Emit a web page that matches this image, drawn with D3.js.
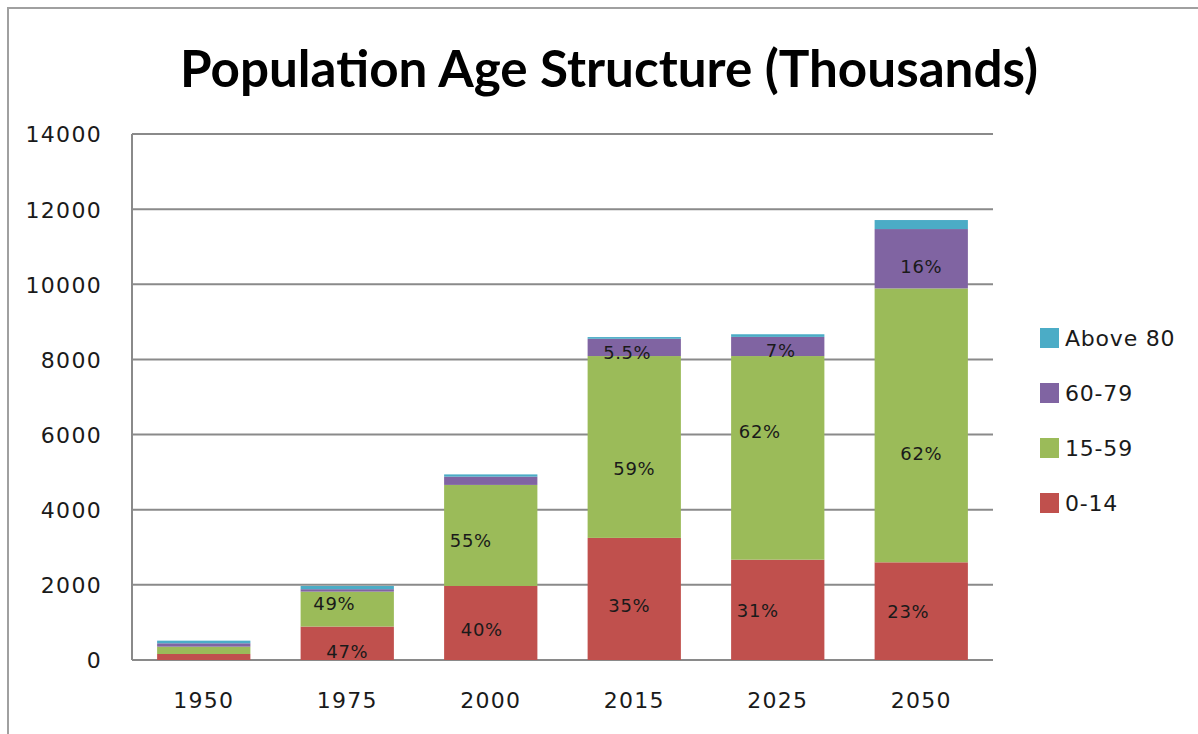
<!DOCTYPE html>
<html>
<head>
<meta charset="utf-8">
<script src="https://cdn.jsdelivr.net/npm/d3@7"></script>
<style>
  html, body { margin: 0; padding: 0; background: #fff; }
  svg { display: block; }
</style>
</head>
<body>
<svg id="chart" width="1198" height="734"></svg>
<script>
// ---------- DATA ----------
const categories = ["1950", "1975", "2000", "2015", "2025", "2050"];
const seriesNames = ["0-14", "15-59", "60-79", "Above 80"];
const age0_14   = [160, 890, 1970, 3250, 2670, 2600];
const age15_59  = [195, 930, 2690, 4840, 5420, 7290];
const age60_79  = [90,  65,  220,  460,  510,  1580];
const age80plus = [70,  85,  60,   45,   70,   240];
const pct0_14   = ["", "47%", "40%", "35%", "31%", "23%"];
const pct15_59  = ["", "49%", "55%", "59%", "62%", "62%"];
const pct60_79  = ["", "", "", "5.5%", "7%", "16%"];
const yTicks = [0, 2000, 4000, 6000, 8000, 10000, 12000, 14000];
const titleText = "Population Age Structure (Thousands)";

// ---------- LAYOUT / STYLE ----------
const colors = ["#C0504D", "#9BBB59", "#8064A2", "#4BACC6"];
const plot = { left: 132, right: 993, top: 134, bottom: 660 };
const textFont = "'DejaVu Sans', Verdana, sans-serif";
// label nudges (dx, dy) per series per category, relative to segment centre
const nudge0_14  = [[0,0],[0,8],[-9,7],[-5,7],[-20,1],[-13,0]];
const nudge15_59 = [[0,0],[-13,-6],[-20,5],[0,22],[-18,-26],[0,28]];
const nudge60_79 = [[0,0],[0,0],[0,0],[-7,5],[3,4],[0,8]];

const svg = d3.select("#chart");

// outer chart border
svg.append("path")
  .attr("d", "M8,734 L8,8 L1198,8")
  .attr("fill", "none").attr("stroke", "#a0a0a0").attr("stroke-width", 2);

// title
const title = svg.append("text")
  .attr("x", 609).attr("y", 87)
  .attr("text-anchor", "middle")
  .attr("font-family", "Lato, 'Open Sans', sans-serif")
  .attr("font-weight", "bold")
  .attr("font-size", 50)
  .attr("fill", "#000")
  .text(titleText);
const tw = title.node().getComputedTextLength();
title.attr("font-size", 50 * 858 / tw);

// scales
const x = d3.scaleBand().domain(categories)
  .range([plot.left, plot.right]).paddingInner(0.35).paddingOuter(0.175);
const y = d3.scaleLinear().domain([0, 14000]).range([plot.bottom, plot.top]);

// gridlines
svg.append("g").selectAll("line").data(yTicks).join("line")
  .attr("x1", plot.left).attr("x2", plot.right)
  .attr("y1", d => y(d)).attr("y2", d => y(d))
  .attr("stroke", "#8a8a8a").attr("stroke-width", 2);
// left axis line
svg.append("line")
  .attr("x1", plot.left).attr("x2", plot.left)
  .attr("y1", y(14000)).attr("y2", y(0))
  .attr("stroke", "#8a8a8a").attr("stroke-width", 2);

// y axis labels
const yAxis = d3.axisLeft(y).tickValues(yTicks).tickFormat(d3.format("d")).tickSize(0).tickPadding(0);
const gy = svg.append("g").attr("transform", "translate(102,0)").call(yAxis);
gy.select(".domain").remove();
gy.selectAll("text")
  .attr("font-family", textFont)
  .attr("font-size", 22).attr("letter-spacing", 1.3).attr("fill", "#1a1a1a").attr("dy", "0.36em");

// x axis labels
const xAxis = d3.axisBottom(x).tickSize(0).tickPadding(0);
const gx = svg.append("g").attr("transform", "translate(0,700)").call(xAxis);
gx.select(".domain").remove();
gx.selectAll("text")
  .attr("font-family", textFont)
  .attr("font-size", 22).attr("letter-spacing", 1.3).attr("fill", "#1a1a1a").attr("dy", "0.36em");

// stacked data
const rows = categories.map((c, i) => ({
  cat: c, "0-14": age0_14[i], "15-59": age15_59[i], "60-79": age60_79[i], "Above 80": age80plus[i]
}));
const stacked = d3.stack().keys(seriesNames)(rows);

svg.append("g").selectAll("g").data(stacked).join("g")
  .attr("fill", (d, i) => colors[i])
  .selectAll("rect").data(d => d).join("rect")
  .attr("x", d => x(d.data.cat))
  .attr("width", x.bandwidth())
  .attr("y", d => y(d[1]))
  .attr("height", d => y(d[0]) - y(d[1]));

// data labels
const labelSets = [[pct0_14, nudge0_14], [pct15_59, nudge15_59], [pct60_79, nudge60_79]];
const lg = svg.append("g");
labelSets.forEach(([pcts, nudges], si) => {
  stacked[si].forEach((seg, ci) => {
    if (!pcts[ci]) return;
    lg.append("text")
      .attr("x", x(seg.data.cat) + x.bandwidth() / 2 + nudges[ci][0])
      .attr("y", (y(seg[0]) + y(seg[1])) / 2 + nudges[ci][1])
      .attr("dy", "0.36em")
      .attr("text-anchor", "middle")
      .attr("font-family", textFont)
      .attr("font-size", 18).attr("letter-spacing", 0.6).attr("fill", "#1a1a1a")
      .text(pcts[ci]);
  });
});

// legend
const legendOrder = [3, 2, 1, 0];
const leg = svg.append("g").selectAll("g").data(legendOrder).join("g")
  .attr("transform", (d, i) => `translate(1040,${338 + i * 55})`);
leg.append("rect").attr("x", 0).attr("y", -10).attr("width", 19).attr("height", 20)
  .attr("fill", d => colors[d]);
leg.append("text").attr("x", 25).attr("y", 0).attr("dy", "0.36em")
  .attr("font-family", textFont)
  .attr("font-size", 22).attr("letter-spacing", 0.8).attr("fill", "#1a1a1a")
  .text(d => seriesNames[d]);
</script>
</body>
</html>
